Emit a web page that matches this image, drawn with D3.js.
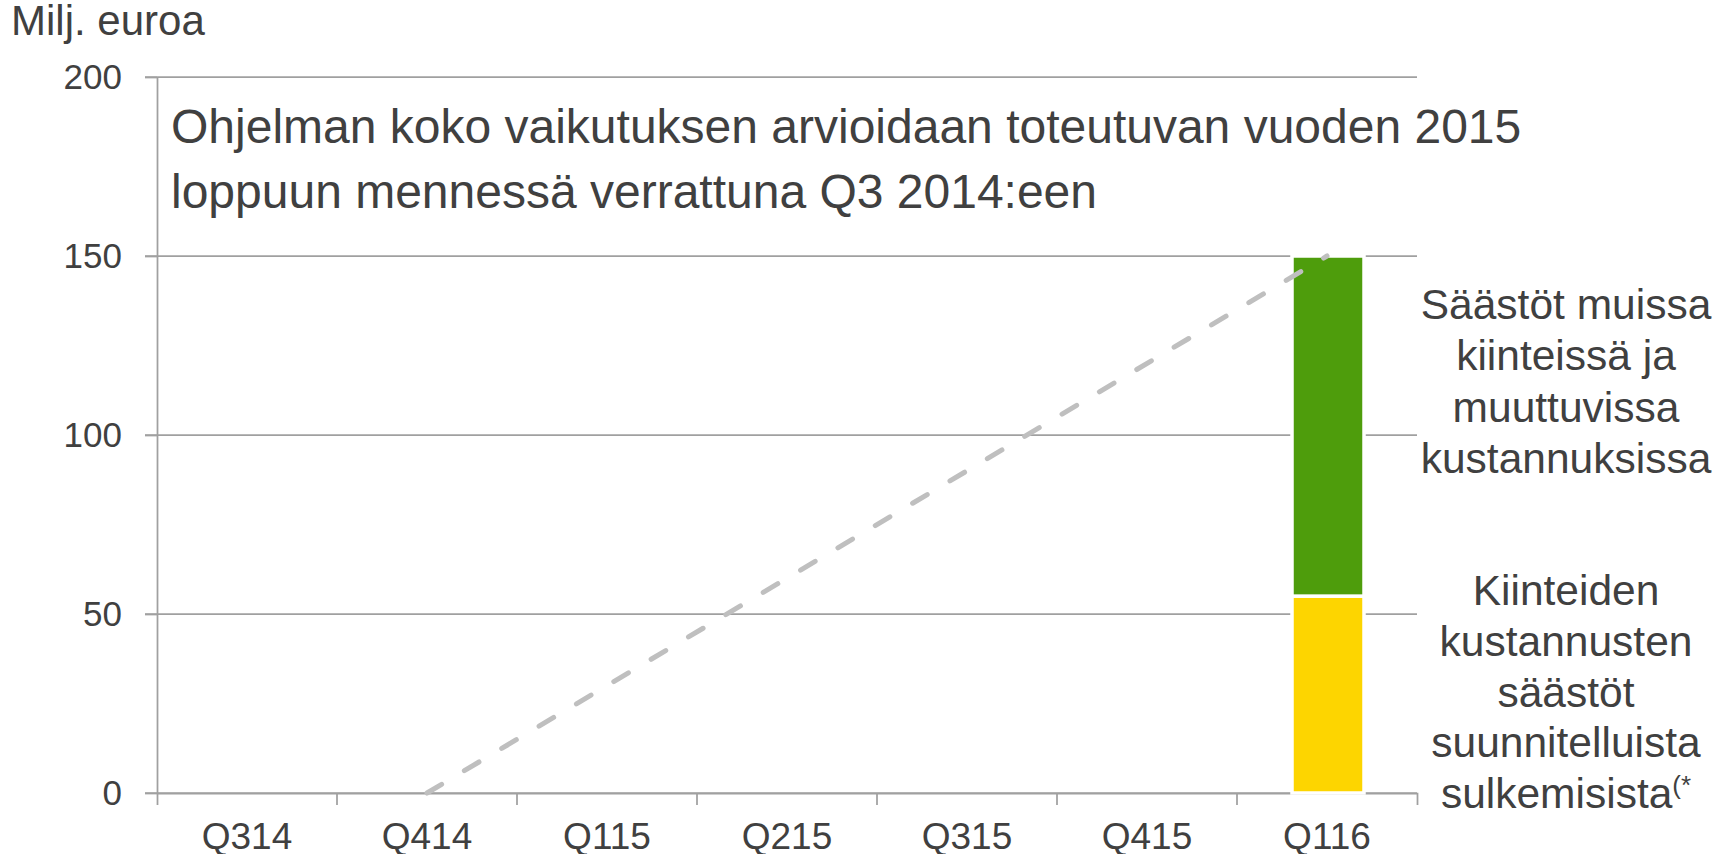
<!DOCTYPE html>
<html>
<head>
<meta charset="utf-8">
<script src="https://cdn.jsdelivr.net/npm/d3@7"></script>
<style>
	body { margin: 0; background: #fff; }
	svg text { font-family: "Liberation Sans", Arial, sans-serif; fill: #404040; }
</style>
</head>
<body>
<svg id="chart"></svg>
<script>
var quarters = ["Q314", "Q414", "Q115", "Q215", "Q315", "Q415", "Q116"];
var fixedSavings = [0, 0, 0, 0, 0, 0, 55];     // yellow
var otherSavings = [0, 0, 0, 0, 0, 0, 95];     // green
var targetQuarters = ["Q414", "Q116"];
var targetValues = [0, 150];
var yTicks = [0, 50, 100, 150, 200];
var titleLines = ["Ohjelman koko vaikutuksen arvioidaan toteutuvan vuoden 2015",
	"loppuun mennessä verrattuna Q3 2014:een"];
var greenLabel = ["Säästöt muissa", "kiinteissä ja", "muuttuvissa", "kustannuksissa"];
var yellowLabel = ["Kiinteiden", "kustannusten", "säästöt", "suunnitelluista", "sulkemisista"];

var width = 1731;
var height = 854;
var margin = {
	left: 157,
	right: 314,
	top: 77,
	bottom: 61
}

var svg = d3.select("#chart")
	.attr("width", width)
	.attr("height", height);

var xScale = d3.scaleBand()
	.domain(quarters)
	.range([margin.left, width - margin.right]);
var yScale = d3.scaleLinear()
	.domain([0, 200])
	.range([height - margin.bottom, margin.top]);

// gridlines
svg.selectAll("line.grid")
	.data(yTicks)
	.enter()
	.append("line")
	.classed("grid", true)
	.attr("x1", margin.left - 12)
	.attr("x2", width - margin.right)
	.attr("y1", function (d) { return yScale(d); })
	.attr("y2", function (d) { return yScale(d); })
	.attr("stroke", "#a0a0a0")
	.attr("stroke-width", 1.75);

// y axis
var yAxis = d3.axisLeft(yScale)
	.tickValues(yTicks)
	.tickSizeInner(12)
	.tickSizeOuter(0)
	.tickPadding(23);
var gy = svg.append("g")
	.attr("transform", "translate(" + margin.left + ",0)")
	.call(yAxis);
gy.selectAll("path, line").attr("stroke", "#a0a0a0").attr("stroke-width", 1.75);
gy.selectAll("text").style("font-size", "35px").attr("fill", "#404040");

// x axis
var xAxis = d3.axisBottom(xScale)
	.tickSizeInner(0)
	.tickSizeOuter(12)
	.tickPadding(30);
var gx = svg.append("g")
	.attr("transform", "translate(0," + yScale(0) + ")")
	.call(xAxis);
gx.select("path").attr("stroke", "#a0a0a0").attr("stroke-width", 1.75);
gx.selectAll("text").style("font-size", "37px").attr("fill", "#404040");
gx.selectAll("line.bound")
	.data(quarters.slice(1))
	.enter()
	.append("line")
	.classed("bound", true)
	.attr("x1", function (d) { return xScale(d); })
	.attr("x2", function (d) { return xScale(d); })
	.attr("y1", 0)
	.attr("y2", 12)
	.attr("stroke", "#a0a0a0")
	.attr("stroke-width", 1.75);

// stacked bars
var barW = xScale.bandwidth() * 0.4;
var stacks = [
	{ values: fixedSavings, base: quarters.map(function () { return 0; }), color: "#fdd500" },
	{ values: otherSavings, base: fixedSavings, color: "#4e9d0c" }
];
stacks.forEach(function (s) {
	svg.append("g")
		.selectAll("rect")
		.data(quarters.filter(function (q, i) { return s.values[i] > 0; }))
		.enter()
		.append("rect")
		.attr("x", function (d) { return xScale(d) + (xScale.bandwidth() - barW) / 2 + 1; })
		.attr("width", barW)
		.attr("y", function (d) {
			var i = quarters.indexOf(d);
			return yScale(s.base[i] + s.values[i]);
		})
		.attr("height", function (d) {
			var i = quarters.indexOf(d);
			return yScale(s.base[i]) - yScale(s.base[i] + s.values[i]);
		})
		.attr("fill", s.color)
		.attr("stroke", "#fff")
		.attr("stroke-width", 3.5);
});

// dashed target line
var line = d3.line()
	.x(function (d, i) { return xScale(targetQuarters[i]) + xScale.bandwidth() / 2; })
	.y(function (d) { return yScale(d); });
svg.append("path")
	.datum(targetValues)
	.attr("d", line)
	.attr("fill", "none")
	.attr("stroke", "#bfbfbf")
	.attr("stroke-width", 5)
	.attr("stroke-linecap", "round")
	.attr("stroke-dasharray", "17,26.5");

// y unit label
svg.append("text")
	.attr("x", 11)
	.attr("y", 35)
	.style("font-size", "42px")
	.text("Milj. euroa");

// title inside plot
svg.append("text")
	.selectAll("tspan")
	.data(titleLines)
	.enter()
	.append("tspan")
	.attr("x", 171)
	.attr("y", function (d, i) { return 143 + i * 65; })
	.style("font-size", "48px")
	.text(function (d) { return d; });

// right-hand labels
var labelX = 1566;
svg.append("text")
	.attr("text-anchor", "middle")
	.style("font-size", "42.5px")
	.selectAll("tspan")
	.data(greenLabel)
	.enter()
	.append("tspan")
	.attr("x", labelX)
	.attr("y", function (d, i) { return 319 + i * 51.3; })
	.text(function (d) { return d; });

var yl = svg.append("text")
	.attr("text-anchor", "middle")
	.style("font-size", "42.5px");
yellowLabel.forEach(function (d, i) {
	yl.append("tspan")
		.attr("x", labelX)
		.attr("y", 605 + i * 50.8)
		.text(d);
	if (i === yellowLabel.length - 1) {
		yl.append("tspan")
			.attr("dy", -14)
			.style("font-size", "26px")
			.text("(*");
	}
});
</script>
</body>
</html>
